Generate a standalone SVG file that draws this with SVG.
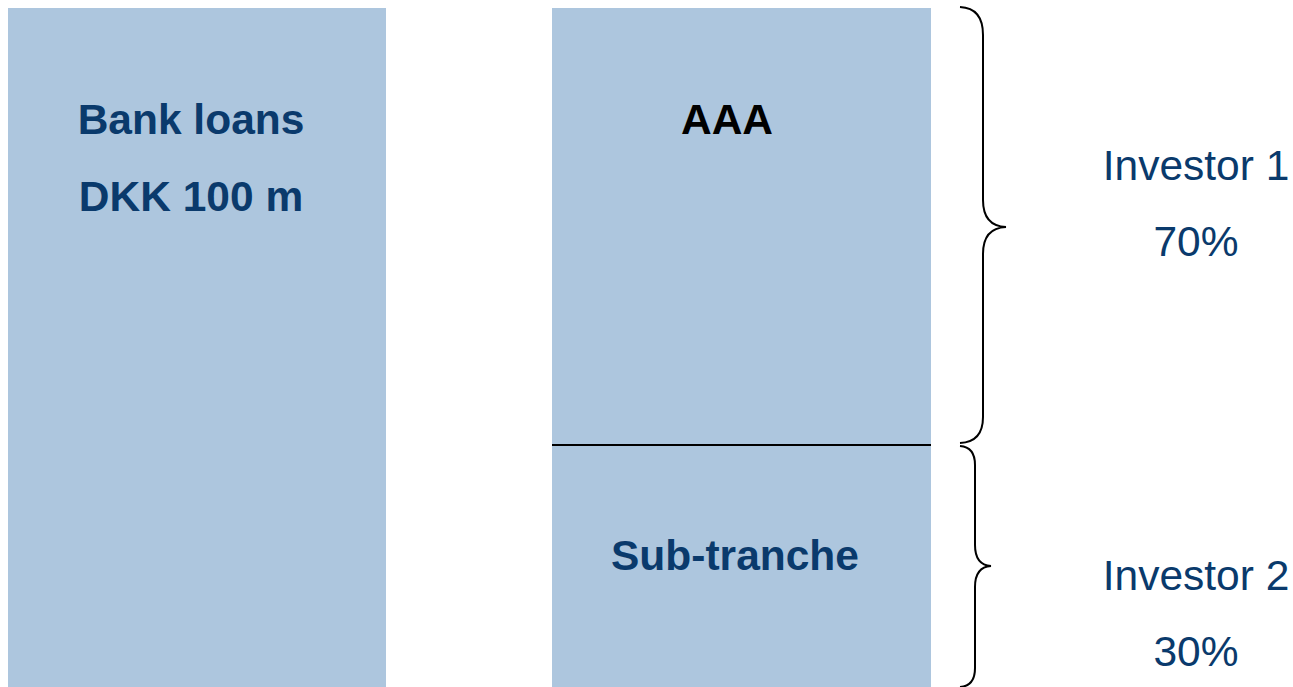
<svg xmlns="http://www.w3.org/2000/svg" width="1293" height="687" viewBox="0 0 1293 687">
<style>
.box{fill:#ADC6DE;stroke:none}
.t{font-family:"Liberation Sans",Arial,sans-serif;font-size:42.5px;text-anchor:middle;fill:#0A3A6C}
.b{font-weight:bold}
.brace{fill:none;stroke:#000;stroke-width:2}
</style>
<rect width="1293" height="687" fill="#fff"/>
<g id="bank-loans">
<rect class="box" x="8" y="8" width="378" height="679"/>
<text class="t b" x="191" y="134">Bank loans</text>
<text class="t b" x="191" y="211">DKK 100 m</text>
</g>
<g id="aaa">
<rect class="box" x="552" y="8" width="379" height="437"/>
<text class="t b" x="727" y="134" style="fill:#000">AAA</text>
</g>
<g id="sub-tranche">
<rect class="box" x="552" y="445" width="379" height="242"/>
<text class="t b" x="735" y="570">Sub-tranche</text>
</g>
<g id="connectors">
<line x1="552" y1="445" x2="931" y2="445" stroke="#000" stroke-width="2"/>
<path class="brace" d="M960,7 Q983,8 983,35 L983,200 Q983,226 1006,227 Q983,228 983,254 L983,417 Q983,442 960,443"/>
<path class="brace" d="M960,446 Q975,447 975,465 L975,545 Q975,565 991,566 Q975,567 975,587 L975,668 Q975,686 960,687"/>
</g>
<g id="investor-1">
<text class="t" x="1196" y="180">Investor 1</text>
<text class="t" x="1196" y="256">70%</text>
</g>
<g id="investor-2">
<text class="t" x="1196" y="590">Investor 2</text>
<text class="t" x="1196" y="666">30%</text>
</g>
</svg>
